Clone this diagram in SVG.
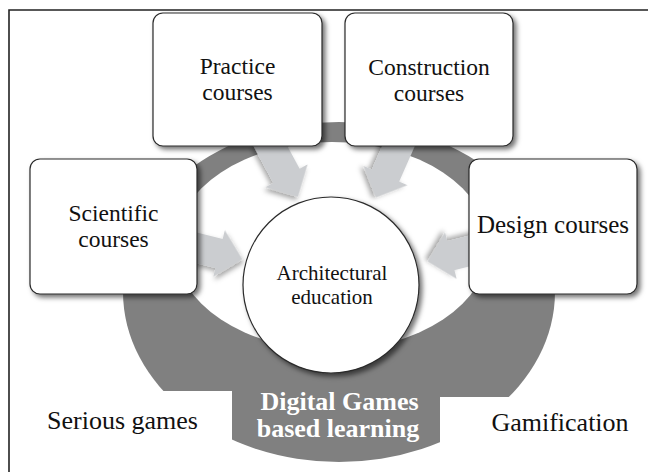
<svg xmlns="http://www.w3.org/2000/svg" width="648" height="472" viewBox="0 0 648 472">
<defs>
<filter id="sh" x="-20%" y="-20%" width="140%" height="140%">
<feDropShadow dx="3" dy="3" stdDeviation="2.5" flood-color="#000" flood-opacity="0.55"/>
</filter>
<filter id="ash" x="-30%" y="-30%" width="160%" height="160%">
<feDropShadow dx="2" dy="3" stdDeviation="2.5" flood-color="#000" flood-opacity="0.35"/>
</filter>
</defs>
<style>
.box{fill:#fff;stroke:#2a2a2a;stroke-width:1.2;filter:url(#sh)}
.arrow{fill:#cbcdd0;filter:url(#ash)}
.t{font-family:"Liberation Serif","Times New Roman",serif;fill:#111;text-anchor:middle}
.b{font-size:23.5px}
.w{font-family:"Liberation Serif","Times New Roman",serif;fill:#fff;font-weight:bold;text-anchor:middle}
</style>
<rect width="648" height="472" fill="#fff"/>
<g id="ring">
<ellipse cx="339" cy="292" rx="216" ry="170" fill="#808080"/>
<ellipse cx="332" cy="246" rx="157" ry="104" fill="#fff"/>
<rect x="9" y="391" width="223" height="81" fill="#fff"/>
<rect x="440" y="397" width="208" height="75" fill="#fff"/>
</g>
<g id="center">
<circle cx="331" cy="285" r="88" fill="#fff" stroke="#2a2a2a" stroke-width="1.2" filter="url(#sh)"/>
<text class="t" x="332" y="280" font-size="21">Architectural</text>
<text class="t" x="332" y="303.5" font-size="21">education</text>
</g>
<g id="connectors">
<path class="arrow" transform="translate(266,138) rotate(61.6)" d="M0,-15 L43,-15 L43,-24 L67,0 L43,24 L43,15 L0,15 Z"/>
<path class="arrow" transform="translate(402,138) rotate(113.75)" d="M0,-15 L41,-15 L41,-24 L65,0 L41,24 L41,15 L0,15 Z"/>
<path class="arrow" transform="translate(187,245.5) rotate(14)" d="M0,-15 L33,-15 L33,-24 L57,0 L33,24 L33,15 L0,15 Z"/>
<path class="arrow" transform="translate(479,248.6) rotate(166)" d="M0,-15 L29,-15 L29,-24 L53,0 L29,24 L29,15 L0,15 Z"/>
</g>
<g id="practice">
<rect class="box" x="153" y="13" width="169" height="133" rx="10"/>
<text class="t b" x="237.5" y="74">Practice</text>
<text class="t b" x="237.5" y="100">courses</text>
</g>
<g id="construction">
<rect class="box" x="345" y="13" width="168" height="133" rx="10"/>
<text class="t b" x="429" y="75">Construction</text>
<text class="t b" x="429" y="101">courses</text>
</g>
<g id="scientific">
<rect class="box" x="30" y="159" width="167" height="135" rx="10"/>
<text class="t b" x="113.5" y="221">Scientific</text>
<text class="t b" x="113.5" y="247">courses</text>
</g>
<g id="design">
<rect class="box" x="469" y="159" width="168" height="135" rx="10"/>
<text class="t" x="553" y="233" font-size="25">Design courses</text>
</g>
<g id="dgbl">
<text class="w" x="339.5" y="410" font-size="26">Digital Games</text>
<text class="w" x="338" y="437" font-size="26">based learning</text>
</g>
<g id="serious">
<text class="t" x="122.5" y="429" font-size="26">Serious games</text>
</g>
<g id="gamification">
<text class="t" x="560" y="431" font-size="26">Gamification</text>
</g>
<g id="frame">
<path d="M9,472 L9,10 L648,10" fill="none" stroke="#222" stroke-width="1.6"/>
</g>
</svg>
